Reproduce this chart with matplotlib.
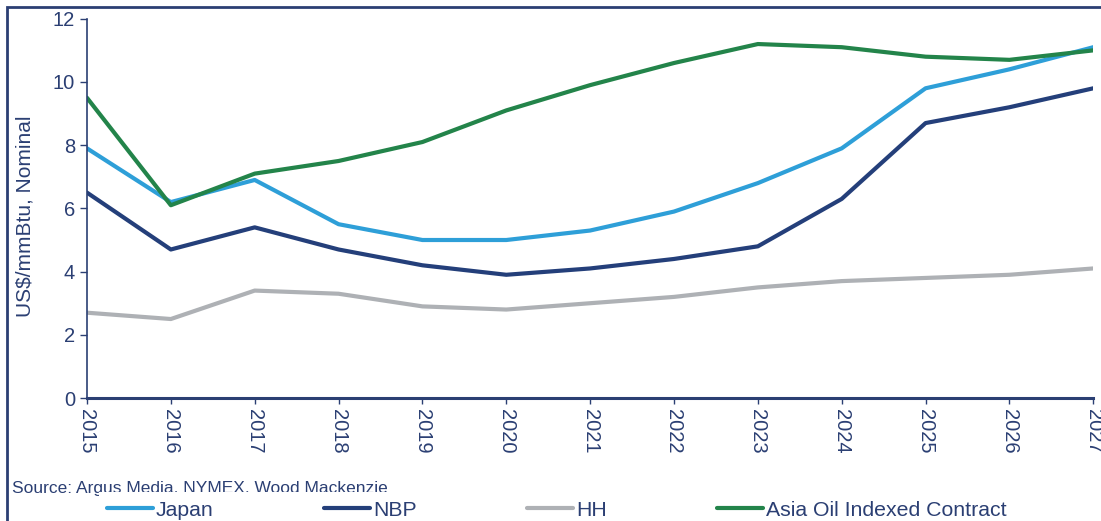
import matplotlib
matplotlib.use("Agg")
import matplotlib.pyplot as plt
from matplotlib.patches import Rectangle

plt.rcParams['font.family'] = ['Liberation Sans', 'DejaVu Sans']

years = list(range(2015, 2028))
japan = [7.9, 6.2, 6.9, 5.5, 5.0, 5.0, 5.3, 5.9, 6.8, 7.9, 9.8, 10.4, 11.1]
nbp = [6.5, 4.7, 5.4, 4.7, 4.2, 3.9, 4.1, 4.4, 4.8, 6.3, 8.7, 9.2, 9.8]
hh = [2.7, 2.5, 3.4, 3.3, 2.9, 2.8, 3.0, 3.2, 3.5, 3.7, 3.8, 3.9, 4.1]
asia_oil = [9.5, 6.1, 7.1, 7.5, 8.1, 9.1, 9.9, 10.6, 11.2, 11.1, 10.8, 10.7, 11.0]

navy = '#2B3F73'

fig = plt.figure(figsize=(11.01, 5.21), dpi=100)
ax = fig.add_axes([0.079, 0.236, 0.914, 0.728])

style = dict(lw=3, solid_capstyle='round', solid_joinstyle='round')
ax.plot(years, japan, color='#2E9FD8', label='Japan', **style)
ax.plot(years, nbp, color='#243F7A', label='NBP', **style)
ax.plot(years, hh, color='#AEB1B5', label='HH', **style)
ax.plot(years, asia_oil, color='#23844A', label='Asia Oil Indexed Contract', **style)

ax.set_xlim(2015, 2027)
ax.set_ylim(0, 12)
ax.set_xticks(years)
ax.set_xticklabels([str(y) for y in years], rotation=-90, fontsize=14.5, color=navy)
ax.set_yticks(range(0, 13, 2))
ax.tick_params(axis='y', labelsize=14.5, colors=navy, length=5, width=1)
ax.tick_params(axis='x', colors=navy, length=4, width=1, pad=4)
ax.set_ylabel('US$/mmBtu, Nominal', fontsize=15, color=navy, va='center')
ax.yaxis.set_label_coords(-0.062, 0.478)

for s in ['top', 'right']:
    ax.spines[s].set_visible(False)
for s in ['left', 'bottom']:
    ax.spines[s].set_color(navy)
ax.spines['left'].set_linewidth(1.2)
ax.spines['bottom'].set_linewidth(2.2)

fig.text(12 / 1101, 1 - 488 / 521, 'Source: Argus Media, NYMEX, Wood Mackenzie',
         fontsize=12.5, color=navy, va='center', ha='left')

# legend box is white and sits over the bottom of the source line, as in the original
leg = fig.legend(loc='center', bbox_to_anchor=(0.506, 1 - 510 / 521), ncol=4,
                 frameon=True, facecolor='white', edgecolor='none', framealpha=1,
                 fontsize=15.3, handlelength=2.15, handletextpad=0.15, columnspacing=5.2,
                 borderpad=0.4, fancybox=False)
for t in leg.get_texts():
    t.set_color(navy)

# outer frame of the original graphic
fig.patches.append(Rectangle((7 / 1101, -0.1), 1.2, 1 - 7 / 521 + 0.1,
                             transform=fig.transFigure, fill=False,
                             edgecolor=navy, lw=2))

fig.savefig('out.png', dpi=100)
